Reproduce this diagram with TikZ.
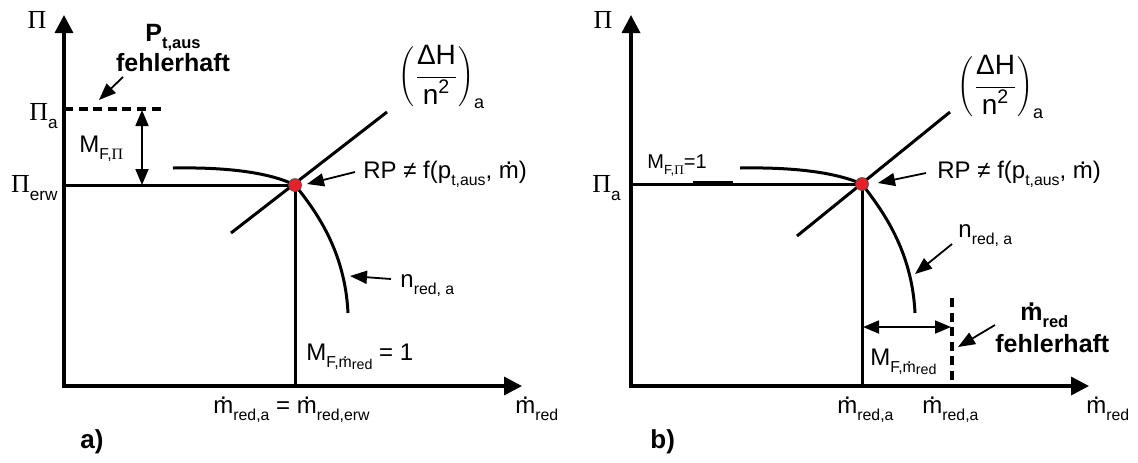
\documentclass[tikz,border=0pt]{standalone}
\usepackage[no-math]{fontspec}
\setmainfont{Liberation Sans}
\newfontfamily\serifgr{Liberation Serif}
\usepackage{graphicx}
\usetikzlibrary{arrows.meta}

\definecolor{rpred}{RGB}{232,32,40}
\newcommand{\lsub}[1]{\raisebox{-0.3em}{\scalebox{0.66}{#1}}}
\newcommand{\lsubsub}[1]{\raisebox{-0.15em}{\scalebox{0.9}{#1}}}
\newcommand{\mdot}{{\setbox0\hbox{m}\rlap{\hbox to\wd0{\hss\raisebox{0.56em}{.}\hss}}m}}
\newcommand{\grPi}{{\serifgr Π}}
\newcommand{\dhfrac}{$\left(\displaystyle\frac{\mbox{ΔH}}{\mbox{n\textsuperscript{2}}}\right)_{\mbox{\fontsize{9}{9}\selectfont a}}$}

\begin{document}
\begin{tikzpicture}[x=0.5pt, y=-0.5pt,
    lbl/.style={inner sep=0pt, font=\fontsize{12}{14}\selectfont},
    smalllbl/.style={inner sep=0pt, font=\fontsize{10}{12}\selectfont},
    fraclbl/.style={inner sep=0pt, font=\fontsize{14}{16}\selectfont},
    boldlbl/.style={inner sep=0pt, font=\fontsize{12.5}{12.5}\selectfont\bfseries, align=center},
    pilbl/.style={inner sep=0pt, font=\fontsize{13}{15}\selectfont},
    axis/.style={line width=1.7pt, {Triangle[length=9pt,width=9pt]}-{Triangle[length=9pt,width=9pt]}},
    curve/.style={line width=1.5pt},
    pointer/.style={line width=0.9pt, -{Triangle[length=8.5pt,width=6.5pt]}},
    dim/.style={line width=0.9pt, {Triangle[length=8pt,width=6.5pt]}-{Triangle[length=8pt,width=6.5pt]}},
    faulty/.style={line width=1.8pt, dash pattern=on 4.5pt off 2.8pt},
    rp/.style={circle, fill=rpred, draw=black!70, line width=0.3pt, inner sep=0pt, minimum size=6.5pt}
]
\useasboundingbox (0,0) rectangle (1138,462);

% ---------- a) ----------
\coordinate (oa) at (64,386);
\coordinate (ya) at (64,15);
\coordinate (xa) at (522,386);
\draw[axis] (ya) -- (oa) -- (xa);

\node[pilbl] (piaxa) at (37,20) {\grPi};
\node[pilbl, anchor=east] (pia) at (58,116) {\grPi\lsub{a}};
\node[pilbl, anchor=east] (pierw) at (58,188) {\grPi\lsub{erw}};

\coordinate (daa) at (64,109);
\coordinate (dab) at (163,109);
\draw[faulty] (daa) -- (dab);

\node[boldlbl] (ptaus) at (173,48) {P\lsub{t,aus}\\fehlerhaft};
\coordinate (pta0) at (123,77);
\coordinate (pta1) at (99,100);
\draw[pointer] (pta0) -- (pta1);

\coordinate (mfa0) at (142,110);
\coordinate (mfa1) at (142,185);
\draw[dim] (mfa0) -- (mfa1);
\node[lbl, anchor=base west] (mfpia) at (79,152) {M\lsub{F,\grPi}};

\coordinate (rpa) at (295,185);
\coordinate (pierwline) at (64,185);
\coordinate (mreda) at (295,386);
\draw[curve] (pierwline) -- (rpa) -- (mreda);

\coordinate (dha0) at (231,233);
\coordinate (dha1) at (387,112);
\draw[curve] (dha0) -- (dha1);

\coordinate (na0) at (173,168);
\coordinate (na1) at (348,313);
\draw[curve] (na0) .. controls (230,167) and (270,173) .. (rpa)
                   .. controls (315,210) and (345,250) .. (na1);
\node[rp] (rpdota) at (rpa) {};

\node[fraclbl] (dhna) at (442,77) {\dhfrac};

\node[lbl, anchor=base west] (rplbla) at (363,178) {RP ≠ f(p\lsub{t,aus}, \mdot)};
\coordinate (rpp0) at (355,172);
\coordinate (rpp1) at (307,184);
\draw[pointer] (rpp0) -- (rpp1);

\node[lbl, anchor=base west] (nreda) at (400,287) {n\lsub{red, a}};
\coordinate (np0) at (391,279);
\coordinate (np1) at (350,276);
\draw[pointer] (np0) -- (np1);

\node[lbl, anchor=base west] (mfma) at (306,360) {M\lsub{F,\mdot\lsubsub{red}} = 1};
\node[lbl, anchor=base west] (mredeq) at (213,413) {\mdot\lsub{red,a} = \mdot\lsub{red,erw}};
\node[lbl, anchor=base west] (mredxa) at (515,413) {\mdot\lsub{red}};
\node[boldlbl, anchor=base west, font=\fontsize{13}{13}\selectfont\bfseries] (laba) at (80,448) {a)};

% ---------- b) ----------
\coordinate (ob) at (631,386);
\coordinate (yb) at (631,15);
\coordinate (xb) at (1089,386);
\draw[axis] (yb) -- (ob) -- (xb);

\node[pilbl] (piaxb) at (603,20) {\grPi};
\node[pilbl, anchor=east] (piab) at (621,188) {\grPi\lsub{a}};

\coordinate (rpb) at (862,184);
\coordinate (pialine) at (631,184);
\coordinate (mredb) at (862,386);
\draw[curve] (pialine) -- (rpb) -- (mredb);
\coordinate (mfb0) at (693,183);
\coordinate (mfb1) at (733,183);
\draw[line width=2.5pt] (mfb0) -- (mfb1);
\node[smalllbl, anchor=base west] (mfpib) at (647,168) {M\lsub{F,\grPi}=1};

\coordinate (dhb0) at (797,236);
\coordinate (dhb1) at (950,112);
\draw[curve] (dhb0) -- (dhb1);

\coordinate (nb0) at (740,168);
\coordinate (nb1) at (915,313);
\draw[curve] (nb0) .. controls (797,167) and (837,173) .. (rpb)
                   .. controls (882,210) and (912,250) .. (nb1);
\node[rp] (rpdotb) at (rpb) {};

\node[fraclbl] (dhnb) at (1001,87) {\dhfrac};

\node[lbl, anchor=base west] (rplblb) at (937,178) {RP ≠ f(p\lsub{t,aus}, \mdot)};
\coordinate (rpq0) at (926,173);
\coordinate (rpq1) at (878,183);
\draw[pointer] (rpq0) -- (rpq1);

\node[lbl, anchor=base west] (nredb) at (958,237) {n\lsub{red, a}};
\coordinate (nq0) at (952,244);
\coordinate (nq1) at (915,274);
\draw[pointer] (nq0) -- (nq1);

\coordinate (dvb0) at (952,298);
\coordinate (dvb1) at (952,380);
\draw[faulty] (dvb0) -- (dvb1);

\coordinate (mfm0) at (863,327);
\coordinate (mfm1) at (951,327);
\draw[dim] (mfm0) -- (mfm1);
\node[lbl, anchor=base west] (mfmb) at (870,365) {M\lsub{F,\mdot\lsubsub{red}}};

\node[boldlbl, anchor=base west] (mredf) at (1020,320) {\mdot\lsub{red}};
\node[boldlbl, anchor=base west] (fehlb) at (995,352) {fehlerhaft};
\coordinate (fq0) at (995,325);
\coordinate (fq1) at (958,347);
\draw[pointer] (fq0) -- (fq1);

\node[lbl, anchor=base west] (mredb1) at (837,413) {\mdot\lsub{red,a}};
\node[lbl, anchor=base west] (mredb2) at (922,413) {\mdot\lsub{red,a}};
\node[lbl, anchor=base west] (mredxb) at (1086,413) {\mdot\lsub{red}};
\node[boldlbl, anchor=base west, font=\fontsize{13}{13}\selectfont\bfseries] (labb) at (650,448) {b)};
\end{tikzpicture}
\end{document}
